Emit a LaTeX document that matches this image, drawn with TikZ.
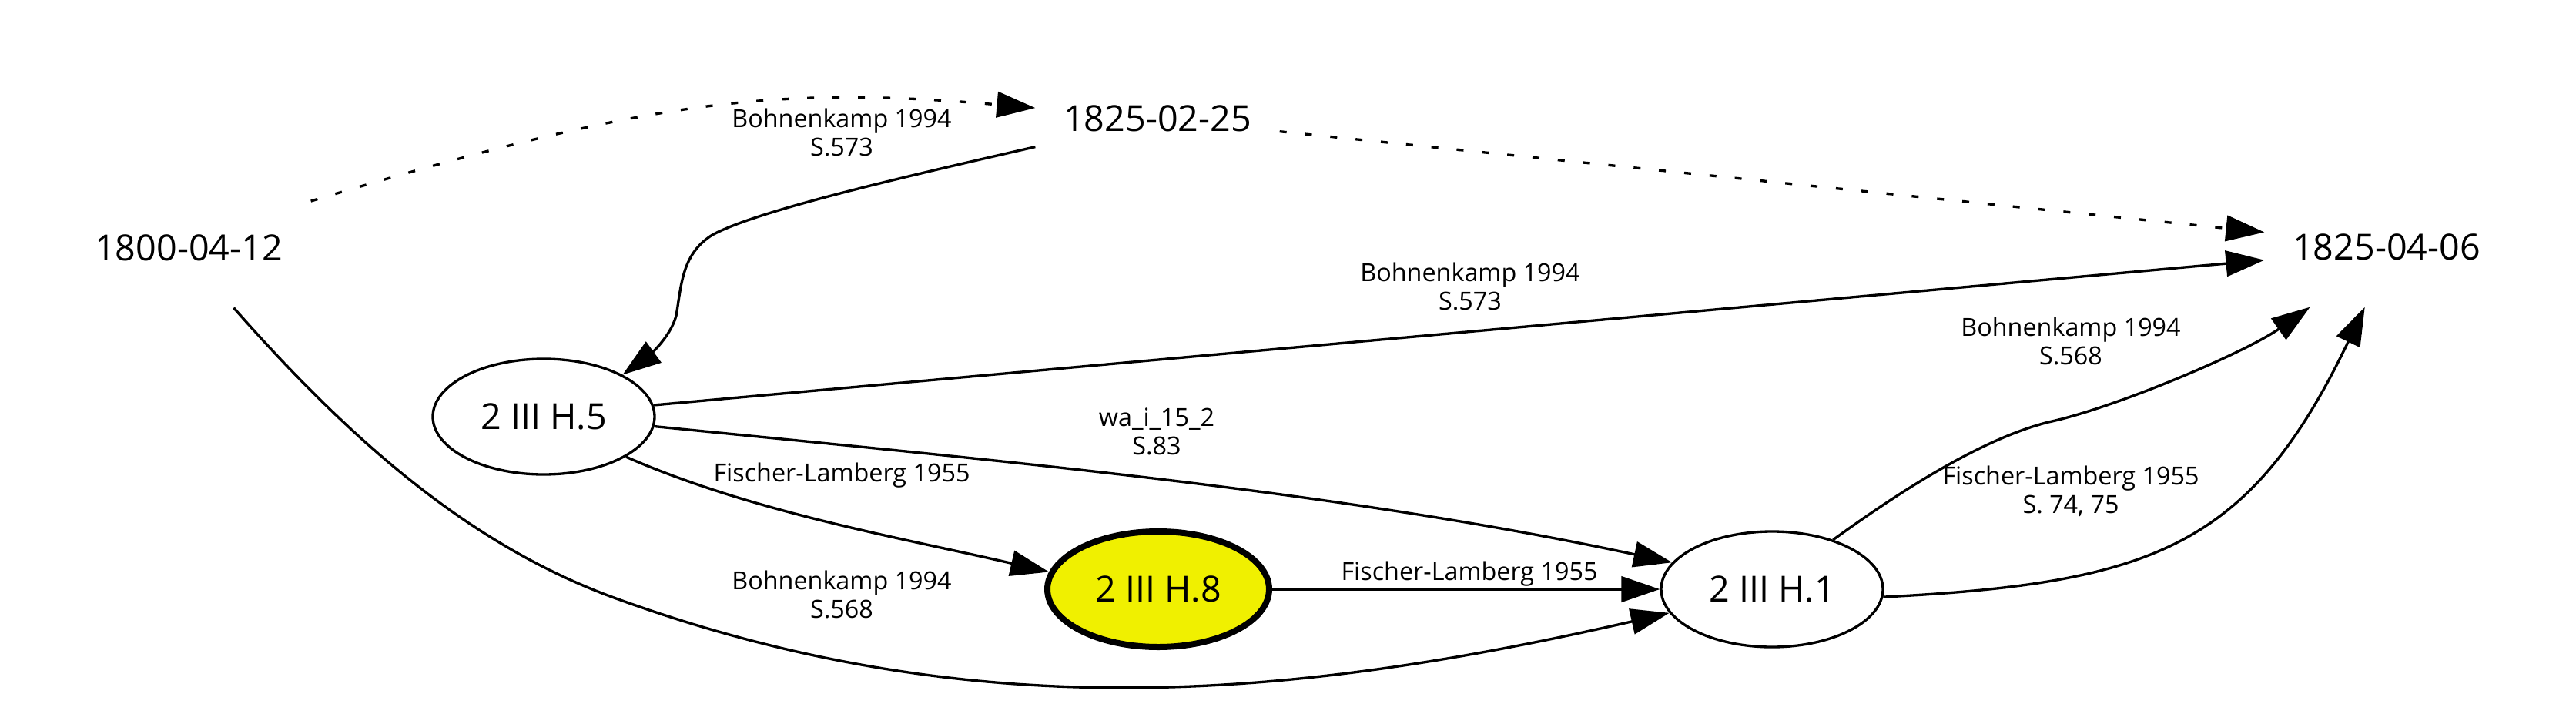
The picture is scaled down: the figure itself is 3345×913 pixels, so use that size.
\documentclass[tikz,border=0pt]{standalone}
\usepackage{fontspec}
\setmainfont{Open Sans}
\usetikzlibrary{arrows.meta,shapes.geometric}
\definecolor{hlyellow}{RGB}{240,240,0}
\begin{document}
\begin{tikzpicture}[x=0.3pt,y=-0.3pt,
  datenode/.style={rectangle,inner sep=0pt,minimum width=94.8pt,minimum height=46.2pt,font=\fontsize{14}{16}\selectfont},
  docnode/.style={ellipse,draw,line width=1pt,inner sep=0pt,minimum width=86.4pt,minimum height=45pt,font=\fontsize{14}{16}\selectfont},
  hlnode/.style={docnode,fill=hlyellow,line width=2.4pt},
  edgelbl/.style={inner sep=0pt,align=center,font=\fontsize{9.7}{11.1}\selectfont},
  rel/.style={line width=1pt,-{Triangle[length=15pt,width=10pt]}},
  dotrel/.style={rel,dash pattern=on 2.7pt off 7.2pt},
]
\useasboundingbox[fill=white] (0,0) rectangle (3345,913);

% nodes
\node[datenode] (d1800) at (245,322) {1800-04-12};
\node[datenode] (d0225) at (1503,154) {1825-02-25};
\node[datenode] (d0406) at (3099,321) {1825-04-06};
\node[docnode] (h5) at (706,541) {2 III H.5};
\node[hlnode] (h8) at (1504,765) {2 III H.8};
\node[docnode] (h1) at (2301,765) {2 III H.1};

% edges
\draw[dotrel] (d1800.21) .. controls (836,132) and (998,110) .. (d0225.175);
\draw[dotrel] (d0225.-6) -- (d0406.173);
\draw[rel] (d0225.193) .. controls (1150,235) and (980,275) .. (925,305)
  .. controls (885,330) and (885,370) .. (878,410)
  .. controls (870,440) and (838,465) .. (h5.28);
\draw[rel] (h5.6) -- (d0406.186);
\draw[rel] (h5.-5) .. controls (1296,598) and (1736,637) .. (h1.165);
\draw[rel] (h5.-26) .. controls (977,665) and (1169,698) .. (h8.171);
\draw[rel] (h8) -- (h1);
\draw[rel] (d1800.-53) .. controls (457,574) and (612,709) .. (800,777)
  .. controls (1270,947) and (1684,906) .. (h1.193);
\draw[rel] (h1.39) .. controls (2470,636) and (2573,570) .. (2660,548)
  .. controls (2745,530) and (2915,458) .. (d0406.218);
\draw[rel] (h1.-4) .. controls (2795,757) and (2921,711) .. (d0406.250);

% edge labels
\node[edgelbl] (l1) at (1093,172) {Bohnenkamp 1994\\S.573};
\node[edgelbl] (l2) at (1909,372) {Bohnenkamp 1994\\S.573};
\node[edgelbl] (l3) at (1502,560) {wa\_i\_15\_2\\S.83};
\node[edgelbl] (l4) at (1093,617) {Fischer-Lamberg 1955};
\node[edgelbl] (l5) at (1908,745) {Fischer-Lamberg 1955};
\node[edgelbl] (l6) at (1093,772) {Bohnenkamp 1994\\S.568};
\node[edgelbl] (l7) at (2689,443) {Bohnenkamp 1994\\S.568};
\node[edgelbl] (l8) at (2689,638) {Fischer-Lamberg 1955\\S. 74, 75};
\end{tikzpicture}
\end{document}
